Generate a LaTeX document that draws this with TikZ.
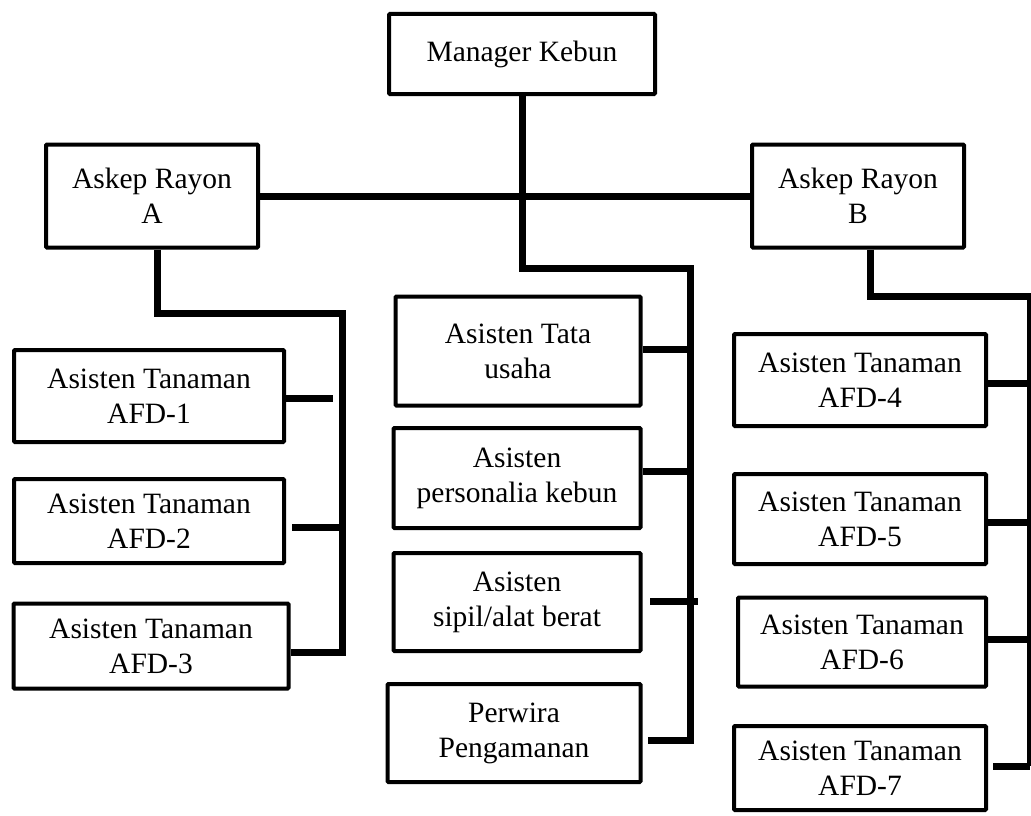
\documentclass[tikz,border=0pt]{standalone}
\usepackage{fontspec}
\setmainfont{Liberation Serif}

\begin{document}
\begin{tikzpicture}[x=1pt,y=-1pt,
    kotak/.style={draw,line width=4pt,rounded corners=1pt,fill=white,align=center,inner sep=0pt,font=\fontsize{29.5}{35}\selectfont},
    garis/.style={line width=7pt}]
    \useasboundingbox (0,0) rectangle (1031,816);

    % Kotak jabatan
    \node[kotak,minimum width=266pt,minimum height=80pt] (mgr) at (522,54) {Manager Kebun};
    \node[kotak,minimum width=212pt,minimum height=103pt] (askA) at (152,196) {Askep Rayon\\A};
    \node[kotak,minimum width=212pt,minimum height=103pt] (askB) at (858,196) {Askep Rayon\\B};

    % Rayon A
    \node[kotak,minimum width=270pt,minimum height=92pt] (afd1) at (149,396) {Asisten Tanaman\\AFD-1};
    \node[kotak,minimum width=270pt,minimum height=84pt] (afd2) at (149,521) {Asisten Tanaman\\AFD-2};
    \node[kotak,minimum width=275pt,minimum height=85pt] (afd3) at (151,646) {Asisten Tanaman\\AFD-3};

    % Staf kebun
    \node[kotak,minimum width=245pt,minimum height=109pt] (tata) at (518,351) {Asisten Tata\\usaha};
    \node[kotak,minimum width=247pt,minimum height=100pt] (pers) at (517,478) {Asisten\\personalia kebun};
    \node[kotak,minimum width=247pt,minimum height=98pt] (sipil) at (517,602) {Asisten\\sipil/alat berat};
    \node[kotak,minimum width=253pt,minimum height=98pt] (perw) at (514,733) {Perwira\\Pengamanan};

    % Rayon B
    \node[kotak,minimum width=252pt,minimum height=92pt] (afd4) at (860,380) {Asisten Tanaman\\AFD-4};
    \node[kotak,minimum width=252pt,minimum height=90pt] (afd5) at (860,519) {Asisten Tanaman\\AFD-5};
    \node[kotak,minimum width=248pt,minimum height=89pt] (afd6) at (862,642) {Asisten Tanaman\\AFD-6};
    \node[kotak,minimum width=252pt,minimum height=84pt] (afd7) at (860,768) {Asisten Tanaman\\AFD-7};

    % Titik belok garis
    \coordinate (mBelok) at (522,268);
    \coordinate (mKanan) at (690,268);
    \coordinate (mBawah) at (690,740);
    \coordinate (aBelok) at (157,313);
    \coordinate (aKanan) at (342,313);
    \coordinate (aBawah) at (342,652);
    \coordinate (a1Ujung) at (333,398);
    \coordinate (a2Awal) at (292,527);
    \coordinate (sAwal) at (650,601);
    \coordinate (sUjung) at (698,601);
    \coordinate (pAwal) at (648,740);
    \coordinate (bBelok) at (870,296);
    \coordinate (bKanan) at (1030,296);
    \coordinate (bBawah) at (1030,766);

    % Garis manager
    \draw[garis] (askA.east) -- (askB.west);
    \draw[garis] (mgr.south) -- (mBelok) -- (mKanan) -- (mBawah) -- (pAwal);
    \draw[garis] (tata.east |- 0,349) -- (mKanan |- 0,349);
    \draw[garis] (pers.east |- 0,471) -- (mKanan |- 0,471);
    \draw[garis] (sAwal) -- (sUjung);

    % Garis rayon A
    \draw[garis] (askA.south -| aBelok) -- (aBelok) -- (aKanan) -- (aBawah) -- (afd3.east |- aBawah);
    \draw[garis] (afd1.east |- a1Ujung) -- (a1Ujung);
    \draw[garis] (a2Awal) -- (aKanan |- a2Awal);

    % Garis rayon B
    \draw[garis] (askB.south -| bBelok) -- (bBelok) -- (bKanan) -- (bBawah);
    \foreach \n/\y in {afd4/383,afd5/522,afd6/639} {
        \draw[garis] (\n.east |- 0,\y) -- (bKanan |- 0,\y);
    }
    \draw[garis] (afd7.east |- bBawah) ++(5,0) -- (bBawah);
\end{tikzpicture}
\end{document}
